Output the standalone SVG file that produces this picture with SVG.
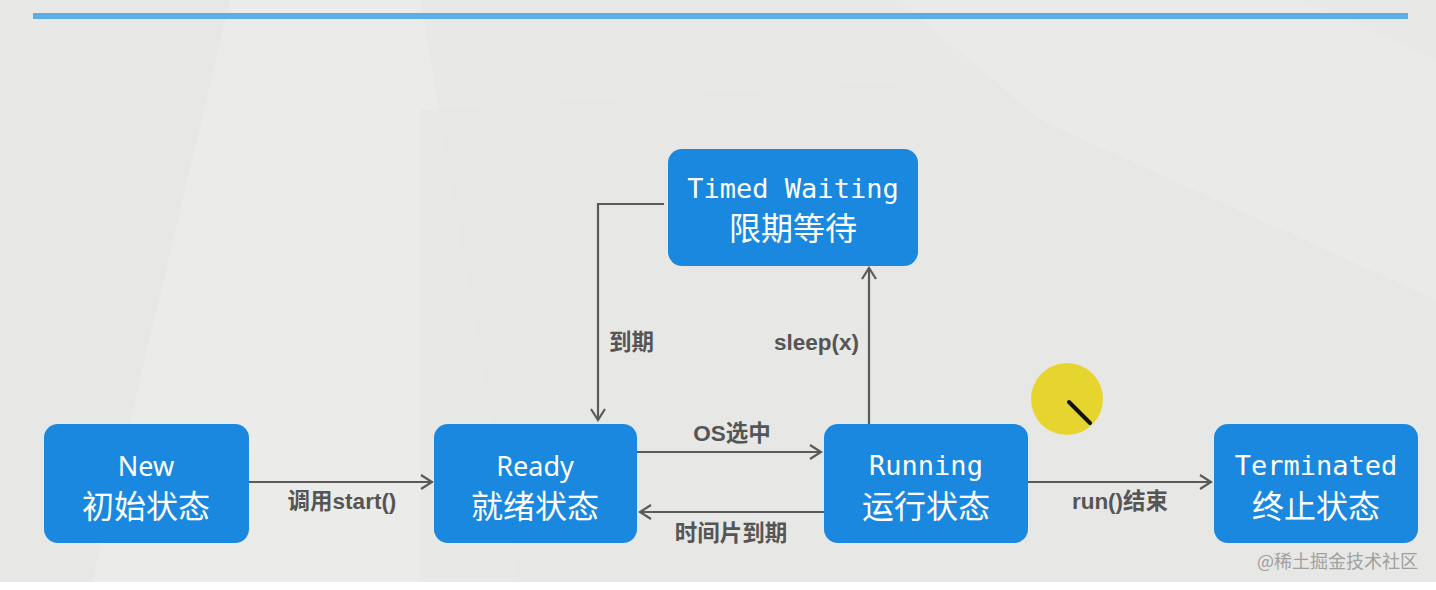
<svg xmlns="http://www.w3.org/2000/svg" width="1436" height="590" viewBox="0 0 1436 590">
<style>
.node rect{fill:#1a88de;}
.en{font-family:"DejaVu Sans Mono","Liberation Mono",monospace;font-size:27px;fill:#ffffff;text-anchor:middle;}
.en2{font-family:"Noto Sans","Liberation Sans",sans-serif;font-size:27px;fill:#ffffff;text-anchor:middle;}
.cn{font-family:"Noto Sans CJK SC","Noto Sans",sans-serif;font-size:32px;fill:#ffffff;text-anchor:middle;}
.lbl{font-family:"Liberation Sans","Noto Sans CJK SC",sans-serif;font-size:22.5px;font-weight:bold;fill:#555555;}
.conn{stroke:#5a5a5a;stroke-width:2.2;fill:none;}
</style>
<defs>
<marker id="arr" markerWidth="14" markerHeight="16" refX="12" refY="8" orient="auto" markerUnits="userSpaceOnUse">
<path d="M1,1 L12,8 L1,15" fill="none" stroke="#5a5a5a" stroke-width="2.2"/>
</marker>
</defs>
<g id="background">
<rect x="0" y="0" width="1436" height="590" fill="#e8e8e6"/>
<polygon points="0,0 420,0 520,590 0,590" fill="#ebebe9"/>
<polygon points="0,0 230,0 90,590 0,590" fill="#e7e7e5"/>
<polygon points="420,110 1300,60 1436,100 1436,590 420,590" fill="#e6e6e4" opacity="0.6"/>
<polygon points="900,0 1300,0 1436,60 1436,300 1040,120" fill="#ebebe9" opacity="0.7"/>
<rect x="0" y="582" width="1436" height="8" fill="#ffffff"/>
<rect x="33" y="13" width="1375" height="6" fill="#5dade8"/>
</g>
<g id="connectors">
<line class="conn" x1="249" y1="482" x2="432" y2="482" marker-end="url(#arr)"/>
<line class="conn" x1="637" y1="452" x2="821" y2="452" marker-end="url(#arr)"/>
<line class="conn" x1="824" y1="512" x2="640" y2="512" marker-end="url(#arr)"/>
<line class="conn" x1="1028" y1="482" x2="1211" y2="482" marker-end="url(#arr)"/>
<line class="conn" x1="869" y1="424" x2="869" y2="268" marker-end="url(#arr)"/>
<polyline class="conn" points="664,204 598,204 598,420" marker-end="url(#arr)"/>
<text class="lbl" x="342" y="509" text-anchor="middle">调用start()</text>
<text class="lbl" x="732" y="441" text-anchor="middle">OS选中</text>
<text class="lbl" x="731" y="541" text-anchor="middle">时间片到期</text>
<text class="lbl" x="1120" y="509" text-anchor="middle">run()结束</text>
<text class="lbl" x="859" y="350" text-anchor="end">sleep(x)</text>
<text class="lbl" x="609" y="350">到期</text>
</g>
<g id="node-new" class="node">
<rect x="44" y="424" width="205" height="119" rx="14"/>
<text class="en2" x="146" y="476">New</text>
<text class="cn" x="146" y="518">初始状态</text>
</g>
<g id="node-ready" class="node">
<rect x="434" y="424" width="203" height="119" rx="14"/>
<text class="en2" x="535" y="476">Ready</text>
<text class="cn" x="535" y="518">就绪状态</text>
</g>
<g id="node-running" class="node">
<rect x="824" y="424" width="204" height="119" rx="14"/>
<text class="en" x="926" y="475">Running</text>
<text class="cn" x="926" y="518">运行状态</text>
</g>
<g id="node-terminated" class="node">
<rect x="1214" y="424" width="204" height="119" rx="14"/>
<text class="en" x="1316" y="475">Terminated</text>
<text class="cn" x="1316" y="518">终止状态</text>
</g>
<g id="node-timed-waiting" class="node">
<rect x="668" y="149" width="250" height="117" rx="14"/>
<text class="en" x="793" y="198">Timed Waiting</text>
<text class="cn" x="793" y="240">限期等待</text>
</g>
<g id="cursor">
<circle cx="1067" cy="399" r="36" fill="#e6d52e"/>
<line x1="1069" y1="402" x2="1090" y2="423" stroke="#111111" stroke-width="4" stroke-linecap="round"/>
</g>
<text x="1418" y="568" text-anchor="end" font-family="Noto Sans CJK SC, Noto Sans, sans-serif" font-size="18" fill="#a0a0a0">@稀土掘金技术社区</text>
</svg>
